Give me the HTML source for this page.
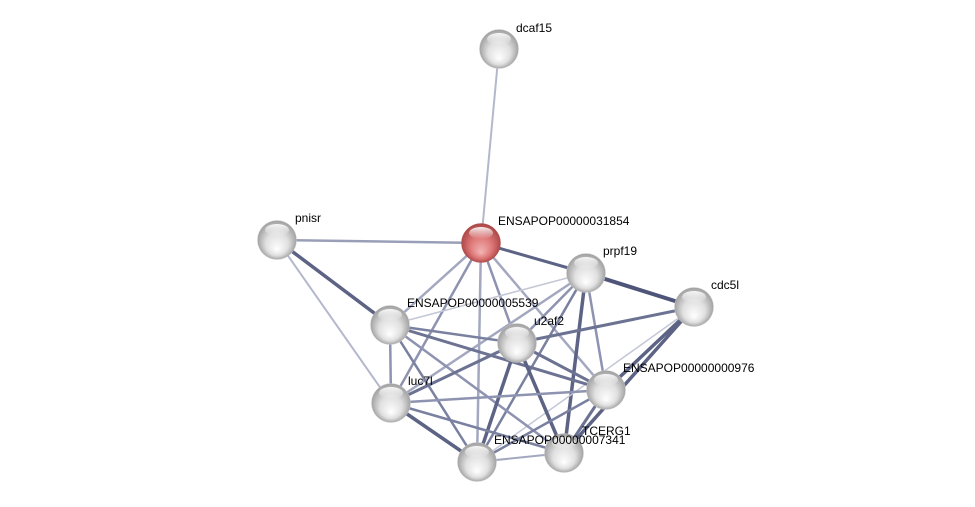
<!DOCTYPE html>
<html><head><meta charset="utf-8"><style>
html,body{margin:0;padding:0;background:#fff;width:975px;height:507px;overflow:hidden}
text{font-family:"Liberation Sans",sans-serif;font-size:12px;fill:#000}
</style></head><body>
<svg width="975" height="507" viewBox="0 0 975 507" xmlns="http://www.w3.org/2000/svg">
<defs>
<radialGradient id="g" cx="50%" cy="50%" r="52%" fx="50%" fy="75%">
<stop offset="0" stop-color="#ffffff"/><stop offset="0.55" stop-color="#e0e0e0"/><stop offset="1" stop-color="#9c9c9c"/>
</radialGradient>
<radialGradient id="r" cx="50%" cy="50%" r="52%" fx="50%" fy="75%">
<stop offset="0" stop-color="#f3b5b5"/><stop offset="0.55" stop-color="#de7676"/><stop offset="1" stop-color="#a84444"/>
</radialGradient>
<linearGradient id="h" x1="0" y1="0" x2="0" y2="1">
<stop offset="0" stop-color="#fff" stop-opacity="0.9"/><stop offset="1" stop-color="#fff" stop-opacity="0"/>
</linearGradient>
</defs>
<g stroke-linecap="round">
<line x1="481" y1="243" x2="499" y2="49" stroke="#b4b8cc" stroke-width="2"/>
<line x1="481" y1="243" x2="277" y2="240" stroke="#9a9fb8" stroke-width="2.5"/>
<line x1="481" y1="243" x2="586" y2="273" stroke="#5c6384" stroke-width="3"/>
<line x1="481" y1="243" x2="390" y2="325" stroke="#a3a8c0" stroke-width="2.5"/>
<line x1="481" y1="243" x2="391" y2="403" stroke="#8d93b0" stroke-width="2.5"/>
<line x1="481" y1="243" x2="477" y2="462" stroke="#a3a8c0" stroke-width="2.5"/>
<line x1="481" y1="243" x2="517" y2="343" stroke="#8d93b0" stroke-width="2.5"/>
<line x1="481" y1="243" x2="606" y2="390" stroke="#a3a8c0" stroke-width="2.5"/>
<line x1="277" y1="240" x2="390" y2="325" stroke="#5c6384" stroke-width="3.5"/>
<line x1="277" y1="240" x2="391" y2="403" stroke="#b4b8cc" stroke-width="2"/>
<line x1="586" y1="273" x2="694" y2="307" stroke="#4e5578" stroke-width="4"/>
<line x1="586" y1="273" x2="390" y2="325" stroke="#c4c7d6" stroke-width="1.5"/>
<line x1="586" y1="273" x2="391" y2="403" stroke="#a3a8c0" stroke-width="2.5"/>
<line x1="586" y1="273" x2="517" y2="343" stroke="#8d93b0" stroke-width="2.5"/>
<line x1="586" y1="273" x2="477" y2="462" stroke="#7a80a0" stroke-width="2.5"/>
<line x1="586" y1="273" x2="564" y2="453" stroke="#5c6384" stroke-width="3.5"/>
<line x1="586" y1="273" x2="606" y2="390" stroke="#8d93b0" stroke-width="2.5"/>
<line x1="694" y1="307" x2="517" y2="343" stroke="#6c7292" stroke-width="3"/>
<line x1="694" y1="307" x2="606" y2="390" stroke="#5c6384" stroke-width="3.5"/>
<line x1="694" y1="307" x2="564" y2="453" stroke="#5c6384" stroke-width="3.5"/>
<line x1="694" y1="307" x2="477" y2="462" stroke="#c4c7d6" stroke-width="1.5"/>
<line x1="390" y1="325" x2="391" y2="403" stroke="#8d93b0" stroke-width="2.5"/>
<line x1="390" y1="325" x2="517" y2="343" stroke="#7a80a0" stroke-width="2.5"/>
<line x1="390" y1="325" x2="606" y2="390" stroke="#6c7292" stroke-width="3"/>
<line x1="390" y1="325" x2="564" y2="453" stroke="#8d93b0" stroke-width="2.5"/>
<line x1="390" y1="325" x2="477" y2="462" stroke="#7a80a0" stroke-width="2.5"/>
<line x1="517" y1="343" x2="391" y2="403" stroke="#6c7292" stroke-width="3"/>
<line x1="517" y1="343" x2="606" y2="390" stroke="#6c7292" stroke-width="3"/>
<line x1="517" y1="343" x2="477" y2="462" stroke="#5c6384" stroke-width="3.5"/>
<line x1="517" y1="343" x2="564" y2="453" stroke="#5c6384" stroke-width="3.5"/>
<line x1="391" y1="403" x2="606" y2="390" stroke="#8d93b0" stroke-width="2.5"/>
<line x1="391" y1="403" x2="477" y2="462" stroke="#5c6384" stroke-width="3.5"/>
<line x1="391" y1="403" x2="564" y2="453" stroke="#7a80a0" stroke-width="2.5"/>
<line x1="606" y1="390" x2="477" y2="462" stroke="#7a80a0" stroke-width="2.5"/>
<line x1="606" y1="390" x2="564" y2="453" stroke="#6c7292" stroke-width="3"/>
<line x1="477" y1="462" x2="564" y2="453" stroke="#a3a8c0" stroke-width="2"/>
</g>
<g>
<circle cx="499" cy="49" r="19.5" fill="url(#g)" stroke="#c8c8c8" stroke-width="0.5"/>
<circle cx="481" cy="243" r="19.5" fill="url(#r)" stroke="#b05050" stroke-width="0.5"/>
<circle cx="277" cy="240" r="19.5" fill="url(#g)" stroke="#c8c8c8" stroke-width="0.5"/>
<circle cx="586" cy="273" r="19.5" fill="url(#g)" stroke="#c8c8c8" stroke-width="0.5"/>
<circle cx="694" cy="307" r="19.5" fill="url(#g)" stroke="#c8c8c8" stroke-width="0.5"/>
<circle cx="390" cy="325" r="19.5" fill="url(#g)" stroke="#c8c8c8" stroke-width="0.5"/>
<circle cx="517" cy="343" r="19.5" fill="url(#g)" stroke="#c8c8c8" stroke-width="0.5"/>
<circle cx="606" cy="390" r="19.5" fill="url(#g)" stroke="#c8c8c8" stroke-width="0.5"/>
<circle cx="391" cy="403" r="19.5" fill="url(#g)" stroke="#c8c8c8" stroke-width="0.5"/>
<circle cx="564" cy="453" r="19.5" fill="url(#g)" stroke="#c8c8c8" stroke-width="0.5"/>
<circle cx="477" cy="462" r="19.5" fill="url(#g)" stroke="#c8c8c8" stroke-width="0.5"/>
</g>
<g fill="url(#h)">
<ellipse cx="499" cy="39" rx="12" ry="6"/><ellipse cx="481" cy="233" rx="12" ry="6"/>
<ellipse cx="277" cy="230" rx="12" ry="6"/><ellipse cx="586" cy="263" rx="12" ry="6"/>
<ellipse cx="694" cy="297" rx="12" ry="6"/><ellipse cx="390" cy="315" rx="12" ry="6"/>
<ellipse cx="517" cy="333" rx="12" ry="6"/><ellipse cx="606" cy="380" rx="12" ry="6"/>
<ellipse cx="391" cy="393" rx="12" ry="6"/><ellipse cx="564" cy="443" rx="12" ry="6"/>
<ellipse cx="477" cy="452" rx="12" ry="6"/>
</g>
<text x="516" y="32">dcaf15</text>
<text x="498" y="225">ENSAPOP00000031854</text>
<text x="295" y="222">pnisr</text>
<text x="603" y="255">prpf19</text>
<text x="711" y="289">cdc5l</text>
<text x="407" y="307">ENSAPOP00000005539</text>
<text x="534" y="325">u2af2</text>
<text x="623" y="372">ENSAPOP00000000976</text>
<text x="408" y="385">luc7l</text>
<text x="582" y="435">TCERG1</text>
<text x="494" y="444">ENSAPOP00000007341</text>
</svg>
</body></html>
